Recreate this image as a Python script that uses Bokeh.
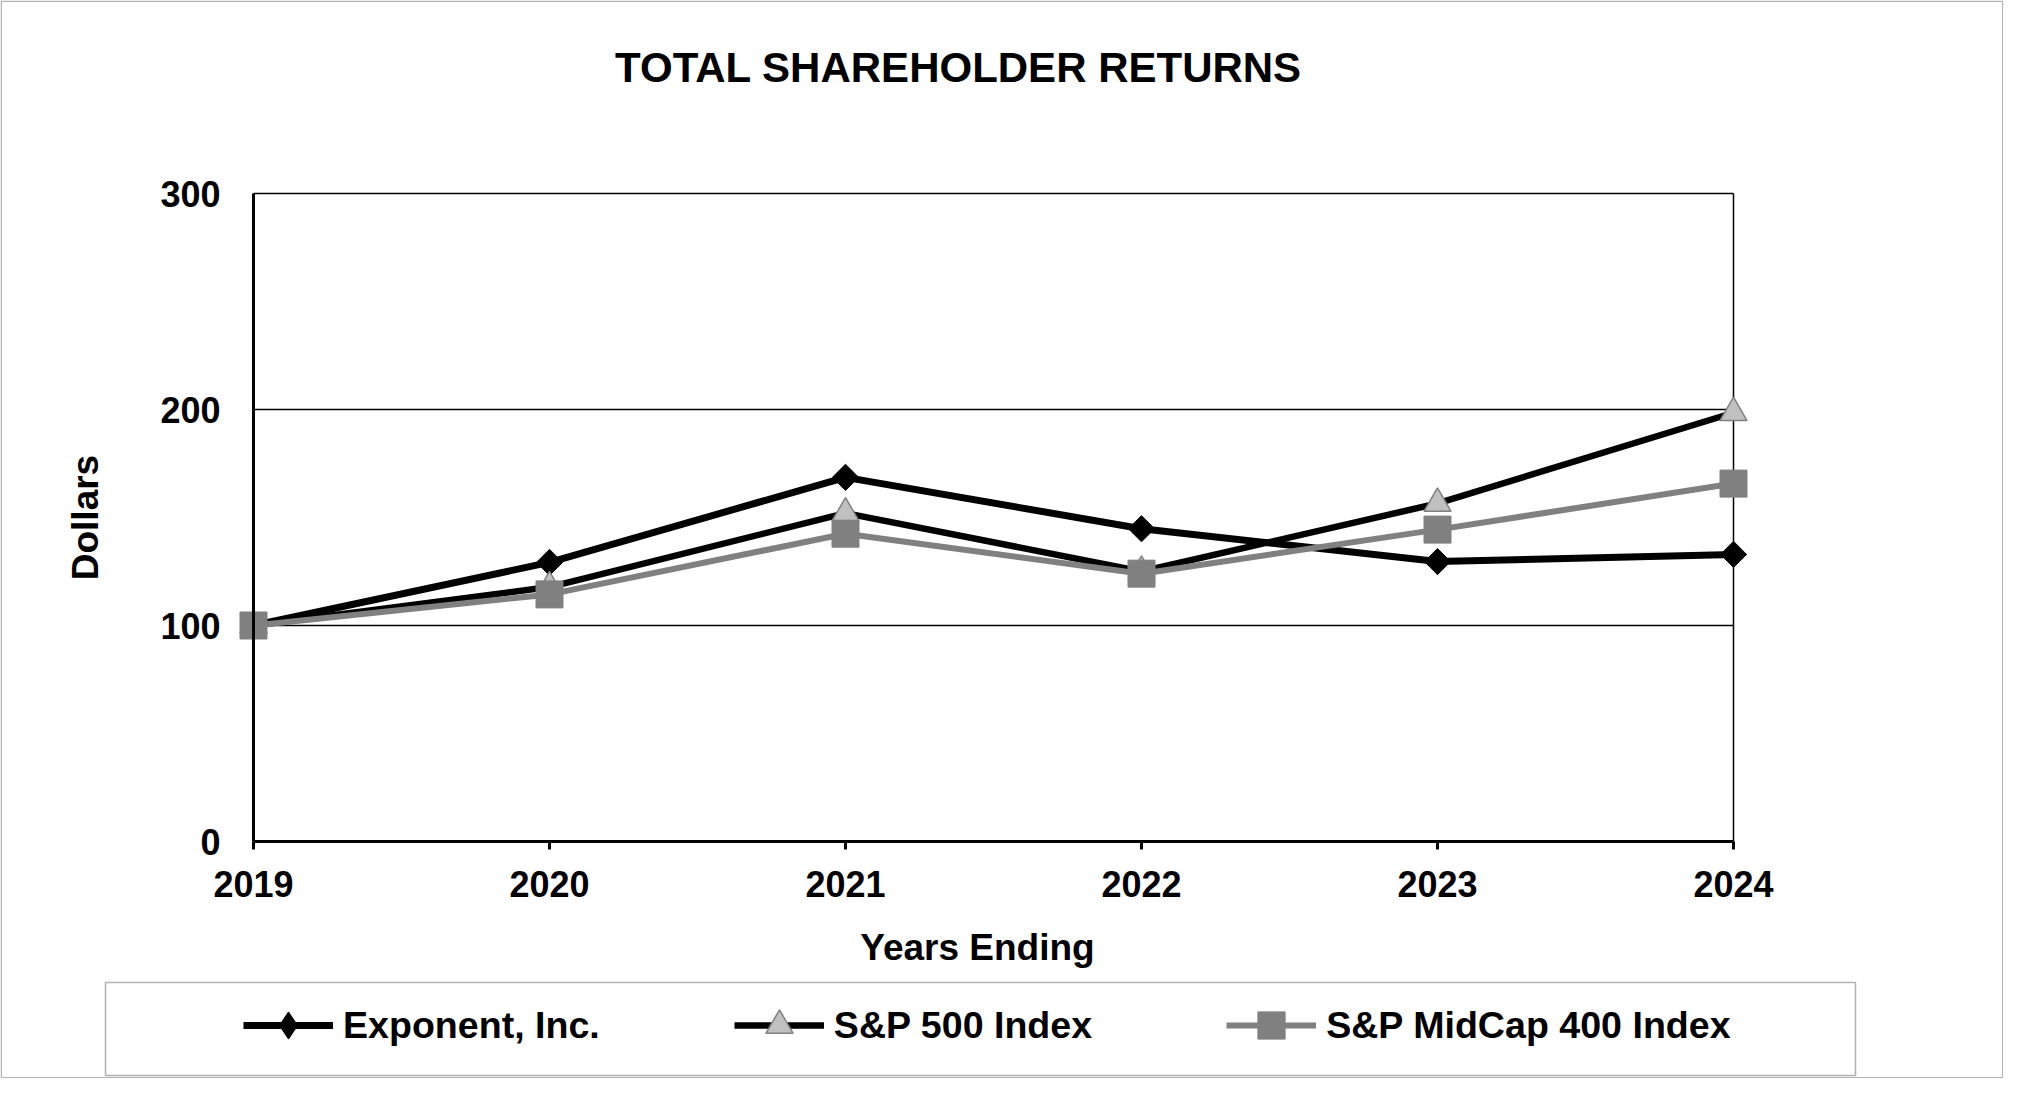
import numpy as np
from bokeh.plotting import figure
from bokeh.models import Range1d, FixedTicker, Legend, LegendItem, Label, BoxAnnotation
from bokeh.embed import file_html
from bokeh.resources import INLINE

# ---- data ----
years = [2019, 2020, 2021, 2022, 2023, 2024]
exponent = [100, 129.2, 168.6, 144.8, 129.6, 132.9]
sp500 = [100, 117.8, 152.0, 125.0, 156.5, 198.5]
midcap = [100, 114.4, 142.5, 124.0, 144.4, 165.7]
y_ticks = [0, 100, 200, 300]
grid_ticks = [100, 200, 300]
series_names = ["Exponent, Inc.", "S&P 500 Index", "S&P MidCap 400 Index"]
title_text = "TOTAL SHAREHOLDER RETURNS"
x_label = "Years Ending"
y_label = "Dollars"

FONT = "Liberation Sans"

# ---- layout (pixels, frame = whole canvas) ----
W, H = 2003, 1078
AX_L, AX_R = 253.0, 1733.0      # pixel x of first / last year
AX_T, AX_B = 193.0, 841.0       # pixel y (from top) of 300 / 0
ppx = (AX_R - AX_L) / (years[-1] - years[0])
ppy = (AX_B - AX_T) / 300.0

p = figure(width=W, height=H,
           x_range=Range1d(years[0] - AX_L / ppx, years[0] + (W - AX_L) / ppx),
           y_range=Range1d(-(H - AX_B) / ppy, AX_B / ppy),
           output_backend="svg", toolbar_location=None,
           min_border=0, min_border_left=0, min_border_right=0,
           min_border_top=0, min_border_bottom=0,
           background_fill_color="white", border_fill_color="white",
           outline_line_color=None)
p.title.visible = False

# x axis
xa = p.xaxis[0]
xa.fixed_location = 0
xa.ticker = FixedTicker(ticks=years)
xa.bounds = (years[0], years[-1])
xa.axis_line_width = 3
xa.axis_line_color = "black"
xa.major_tick_out = 8
xa.major_tick_in = 0
xa.major_tick_line_width = 3
xa.minor_tick_line_color = None
xa.major_label_text_font = FONT
xa.major_label_text_font_style = "bold"
xa.major_label_text_font_size = "36px"
xa.major_label_text_color = "black"
xa.major_label_standoff = 21

# y axis
ya = p.yaxis[0]
ya.fixed_location = years[0]
ya.ticker = FixedTicker(ticks=y_ticks)
ya.bounds = (0, 300)
ya.axis_line_width = 3
ya.axis_line_color = "black"
ya.major_tick_out = 0
ya.major_tick_in = 0
ya.minor_tick_line_color = None
ya.major_label_text_font = FONT
ya.major_label_text_font_style = "bold"
ya.major_label_text_font_size = "36px"
ya.major_label_text_color = "black"
ya.major_label_standoff = 33
ya.axis_label = y_label
ya.axis_label_text_font = FONT
ya.axis_label_text_font_style = "bold"
ya.axis_label_text_font_size = "37px"
ya.axis_label_text_color = "black"
ya.axis_label_standoff = 51

# grids
yg = p.ygrid[0]
yg.ticker = FixedTicker(ticks=grid_ticks)
yg.grid_line_color = "black"
yg.grid_line_width = 1.5
xg = p.xgrid[0]
xg.ticker = FixedTicker(ticks=[years[-1]])
xg.grid_line_color = "black"
xg.grid_line_width = 1.5
try:
    yg.cross_bounds = (years[0], years[-1])
    xg.cross_bounds = (0, 300)
except Exception:
    yg.grid_line_color = None
    xg.grid_line_color = None
    p.segment(x0=[years[0]] * len(grid_ticks), x1=[years[-1]] * len(grid_ticks),
              y0=grid_ticks, y1=grid_ticks, line_color="black", line_width=1.5)
    p.segment(x0=[years[-1]], x1=[years[-1]], y0=[0], y1=[300], line_color="black", line_width=1.5)

# series
r1l = p.line(years, exponent, line_color="black", line_width=7)
r1m = p.scatter(years, exponent, marker="square", angle=np.pi / 4, size=18.5,
                fill_color="black", line_color="black")
r1leg = p.scatter(years, exponent, marker="diamond", size=27,
                  fill_color="black", line_color="black", visible=False)

r2l = p.line(years, sp500, line_color="black", line_width=6.5)
r2m = p.scatter(years, sp500, marker="triangle", size=27,
                fill_color="#C0C0C0", line_color="#808080", line_width=1.5)

r3l = p.line(years, midcap, line_color="#808080", line_width=6)
r3m = p.scatter(years, midcap, marker="square", size=27,
                fill_color="#808080", line_color="#808080")

# legend (row centred at y=1025 from top)
GH = 68
legend = Legend(items=[
    LegendItem(label=series_names[0], renderers=[r1l, r1leg]),
    LegendItem(label=series_names[1], renderers=[r2l, r2m]),
    LegendItem(label=series_names[2], renderers=[r3l, r3m]),
], orientation="horizontal", location=(243, H - (1025 - GH / 2) - GH),
    glyph_width=90, glyph_height=GH, label_standoff=10, spacing=134,
    padding=0, margin=0, border_line_color=None, background_fill_alpha=0,
    label_text_font=FONT, label_text_font_style="bold",
    label_text_font_size="37.6px", label_text_color="black")
p.add_layout(legend)

# legend frame box (105..1855 x 982..1075 from top)
p.add_layout(BoxAnnotation(left=105, right=1855, top=H - 982, bottom=H - 1075,
                           left_units="screen", right_units="screen",
                           top_units="screen", bottom_units="screen",
                           fill_alpha=0, line_color="black", line_width=1.5))
# outer border
p.add_layout(BoxAnnotation(left=0.75, right=W - 0.75, top=H - 0.75, bottom=0.75,
                           left_units="screen", right_units="screen",
                           top_units="screen", bottom_units="screen",
                           fill_alpha=0, line_color="black", line_width=1.5))

# title
p.add_layout(Label(x=958, y=H - 67, x_units="screen", y_units="screen",
                   text=title_text, text_align="center", text_baseline="alphabetic",
                   text_font=FONT, text_font_style="bold", text_font_size="42px",
                   text_color="black"))

# x-axis title
p.add_layout(Label(x=977, y=H - 947, x_units="screen", y_units="screen",
                   text=x_label, text_align="center", text_baseline="alphabetic",
                   text_font=FONT, text_font_style="bold", text_font_size="37px",
                   text_color="black"))

open("out.html", "w").write(file_html(p, INLINE))
